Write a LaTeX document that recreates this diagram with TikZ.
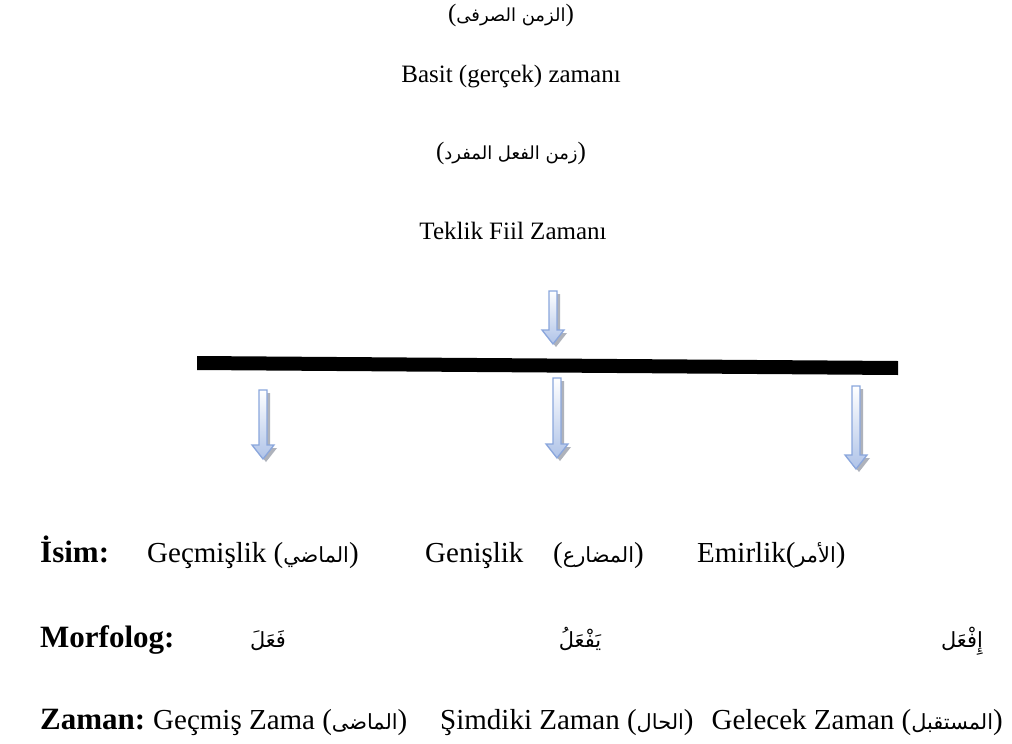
\documentclass[tikz,border=0pt]{standalone}
\usepackage{fontspec}
\setmainfont{Liberation Serif}
\newfontfamily\arabicfont[Script=Arabic,Scale=0.72]{DejaVu Sans}
\TeXXeTstate=1
\newcommand\ar[1]{{\arabicfont\beginR#1\endR}}
\definecolor{arrline}{HTML}{8AA6DC}
\definecolor{arrfill}{HTML}{AFC3E8}
\definecolor{arrshadow}{HTML}{9A9FAA}
\tikzset{
  title/.style={font=\fontsize{25}{30}\selectfont, inner sep=0pt},
  rowtxt/.style={font=\fontsize{29}{34}\selectfont, inner sep=0pt, anchor=base west},
  rowlbl/.style={font=\fontsize{31}{36}\selectfont\bfseries, inner sep=0pt, anchor=base west},
  rowar/.style={font=\fontsize{29}{34}\selectfont, inner sep=0pt, anchor=base},
  arrbody/.style={draw=arrline, line width=1.3pt, line join=miter, top color=white, bottom color=arrfill},
  arrshad/.style={fill=arrshadow, opacity=0.8},
}
% #1 x, #2 y top, #3 y tip
\newcommand\downarr[3]{%
  \fill[arrshad] ({#1-4+3},{#2+3}) -- ({#1+4+3},{#2+3}) -- ({#1+4+3},{#3-14+3}) -- ({#1+11+3},{#3-14+3}) -- ({#1+3},{#3+3}) -- ({#1-11+3},{#3-14+3}) -- ({#1-4+3},{#3-14+3}) -- cycle;
  \path[arrbody] ({#1-4},{#2}) -- ({#1+4},{#2}) -- ({#1+4},{#3-14}) -- ({#1+11},{#3-14}) -- ({#1},{#3}) -- ({#1-11},{#3-14}) -- ({#1-4},{#3-14}) -- cycle;
}
\begin{document}
\begin{tikzpicture}[x=1pt,y=-1pt]
\useasboundingbox[fill=white] (0,0) rectangle (1012,744);

% titles
\node[title] (t1) at (511,15) {(\ar{الزمن الصرفى})};
\node[title] (t2) at (511,77) {Basit (gerçek) zamanı};
\node[title] (t3) at (511,153) {(\ar{زمن الفعل المفرد})};
\node[title] (t4) at (513,231) {Teklik Fiil Zamanı};

% arrows and bar
\downarr{553}{291}{344}
\fill[black] (197,356) coordinate (barL) -- (898,361) coordinate (barR) -- (898,375) -- (197,370) -- cycle;
\downarr{263}{390}{459}
\downarr{557}{378}{458}
\downarr{856}{386}{469}

% row 1
\node[rowlbl] (l1) at (40,562) {İsim:};
\node[rowtxt] (a1) at (147,562) {Geçmişlik (\ar{الماضي})};
\node[rowtxt] (a2) at (425,562) {Genişlik};
\node[rowtxt] (a2b) at (553,562) {(\ar{المضارع})};
\node[rowtxt] (a3) at (697,562) {Emirlik(\ar{الأمر})};

% row 2
\node[rowlbl] (l2) at (40,647) {Morfolog:};
\node[rowar] (b1) at (268,647) {\ar{فَعَلَ}};
\node[rowar] (b2) at (580,647) {\ar{يَفْعَلُ}};
\node[rowar] (b3) at (962,647) {\ar{إِفْعَل}};

% row 3
\node[rowlbl] (l3) at (40,729) {Zaman:};
\node[rowtxt] (c1) at (153,729) {Geçmiş Zama (\ar{الماضى})};
\node[rowtxt] (c2) at (440,729) {Şimdiki Zaman (\ar{الحال})};
\node[rowtxt, anchor=base east] (c3) at (1003,729) {Gelecek Zaman (\ar{المستقبل})};
\end{tikzpicture}
\end{document}
